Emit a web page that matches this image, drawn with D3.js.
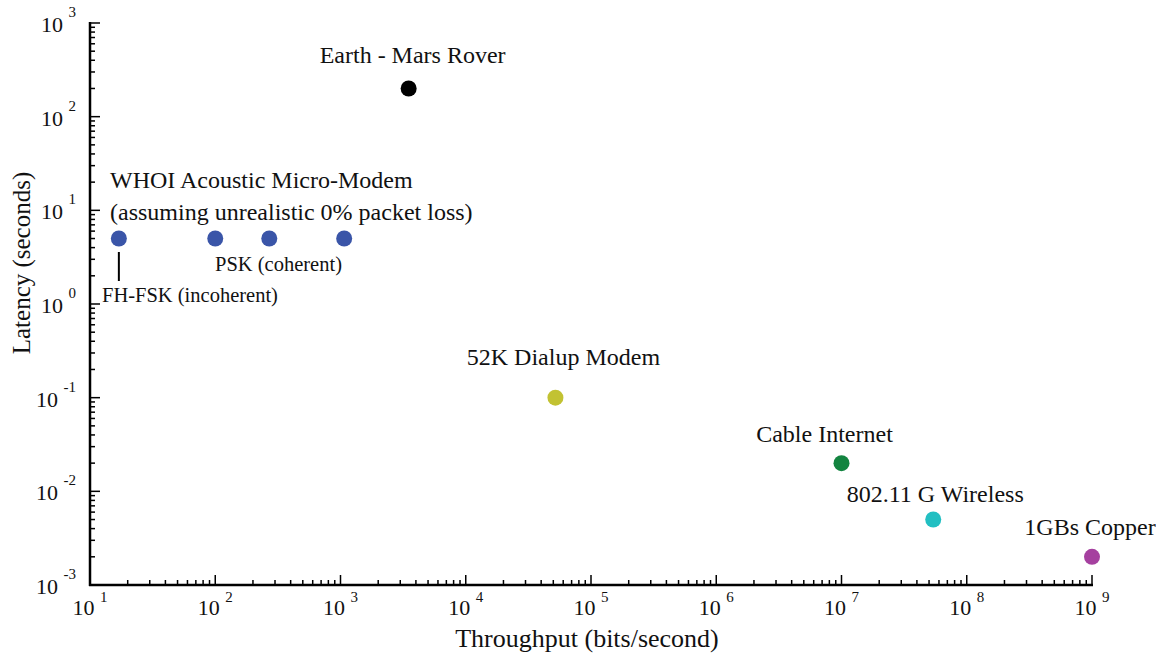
<!DOCTYPE html>
<html><head><meta charset="utf-8">
<script src="https://cdn.jsdelivr.net/npm/d3@7"></script>
<style>body{margin:0;background:#fff}svg{display:block}text{font-family:"Liberation Serif",serif;fill:#111}</style>
</head><body><svg id="c" width="1156" height="656"></svg>
<script>
const names = ["Earth - Mars Rover","WHOI-1","WHOI-2","WHOI-3","WHOI-4","52K Dialup Modem","Cable Internet","802.11 G Wireless","1GBs Copper"];
const throughput = [3500, 17, 100, 270, 1070, 52000, 1e7, 5.4e7, 1e9];
const latency = [200, 5, 5, 5, 5, 0.1, 0.02, 0.005, 0.002];
const colors = ["#000000","#3a55a8","#3a55a8","#3a55a8","#3a55a8","#c2c232","#138440","#22bfc2","#a5409f"];
const labelText = ["Earth - Mars Rover","","","","","52K Dialup Modem","Cable Internet","802.11 G Wireless","1GBs Copper"];
const labelDx = [4,0,0,0,0,8,-17,2,-2];
const labelDy = [-25,0,0,0,0,-33,-21,-18,-22];
const xTickExp = [1,2,3,4,5,6,7,8,9];
const yTickExp = [-3,-2,-1,0,1,2,3];

const svg = d3.select("#c");
const x = d3.scaleLog().domain([10,1e9]).range([90,1092]);
const y = d3.scaleLog().domain([1e-3,1e3]).range([585,23]);

const minorX = [], minorY = [];
for (let e=1;e<9;e++) for (let m=2;m<=9;m++) minorX.push(m*Math.pow(10,e));
for (let e=-3;e<3;e++) for (let m=2;m<=9;m++) minorY.push(m*Math.pow(10,e));

const g = svg.append("g");
g.selectAll(".mx").data(minorX).enter().append("line")
  .attr("x1",d=>x(d)).attr("x2",d=>x(d)).attr("y1",585).attr("y2",580)
  .attr("stroke","#000").attr("stroke-width",1.5);
g.selectAll(".Mx").data(xTickExp).enter().append("line")
  .attr("x1",d=>x(Math.pow(10,d))).attr("x2",d=>x(Math.pow(10,d))).attr("y1",585).attr("y2",575)
  .attr("stroke","#000").attr("stroke-width",1.5);
g.selectAll(".my").data(minorY).enter().append("line")
  .attr("y1",d=>y(d)).attr("y2",d=>y(d)).attr("x1",90).attr("x2",95)
  .attr("stroke","#000").attr("stroke-width",1.5);
g.selectAll(".My").data(yTickExp).enter().append("line")
  .attr("y1",d=>y(Math.pow(10,d))).attr("y2",d=>y(Math.pow(10,d))).attr("x1",90).attr("x2",100)
  .attr("stroke","#000").attr("stroke-width",1.5);
g.append("line").attr("x1",89).attr("x2",x(1e9)+1).attr("y1",585).attr("y2",585).attr("stroke","#000").attr("stroke-width",2.5);
g.append("line").attr("x1",90).attr("x2",90).attr("y1",y(1e3)-1).attr("y2",586).attr("stroke","#000").attr("stroke-width",2.5);

xTickExp.forEach(e=>{
  const t = svg.append("text").attr("x",x(Math.pow(10,e))).attr("y",615).attr("text-anchor","middle").style("font-size","22px");
  t.append("tspan").text("10 ");
  t.append("tspan").text(e).attr("dy",-13).style("font-size","15px");
});
yTickExp.forEach(e=>{
  const t = svg.append("text").attr("x",76).attr("y",y(Math.pow(10,e))+9).attr("text-anchor","end").style("font-size","22px");
  t.append("tspan").text("10 ");
  t.append("tspan").text(e<0?"-"+(-e):e).attr("dy",-15).style("font-size","15px");
});

svg.append("text").attr("x",587).attr("y",647).attr("text-anchor","middle").style("font-size","26px").text("Throughput (bits/second)");
svg.append("text").attr("transform","translate(30,263) rotate(-90)").attr("text-anchor","middle").style("font-size","25px").text("Latency (seconds)");

svg.selectAll(".pt").data(throughput).enter().append("circle")
  .attr("cx",d=>x(d)).attr("cy",(d,i)=>y(latency[i])).attr("r",8)
  .attr("fill",(d,i)=>colors[i]);

labelText.forEach((d,i)=>{
  if (!d) return;
  svg.append("text").attr("x",x(throughput[i])+labelDx[i]).attr("y",y(latency[i])+labelDy[i])
    .attr("text-anchor","middle").style("font-size","24px").text(d);
});

svg.append("text").attr("x",110).attr("y",188).style("font-size","24px").text("WHOI Acoustic Micro-Modem");
svg.append("text").attr("x",110).attr("y",220).style("font-size","24px").text("(assuming unrealistic 0% packet loss)");
svg.append("text").attr("x",215).attr("y",271).style("font-size","20.5px").text("PSK (coherent)");
svg.append("text").attr("x",102).attr("y",302).style("font-size","20.5px").text("FH-FSK (incoherent)");
svg.append("line").attr("x1",x(throughput[1])).attr("x2",x(throughput[1])).attr("y1",252).attr("y2",281).attr("stroke","#000").attr("stroke-width",2);
</script></body></html>
